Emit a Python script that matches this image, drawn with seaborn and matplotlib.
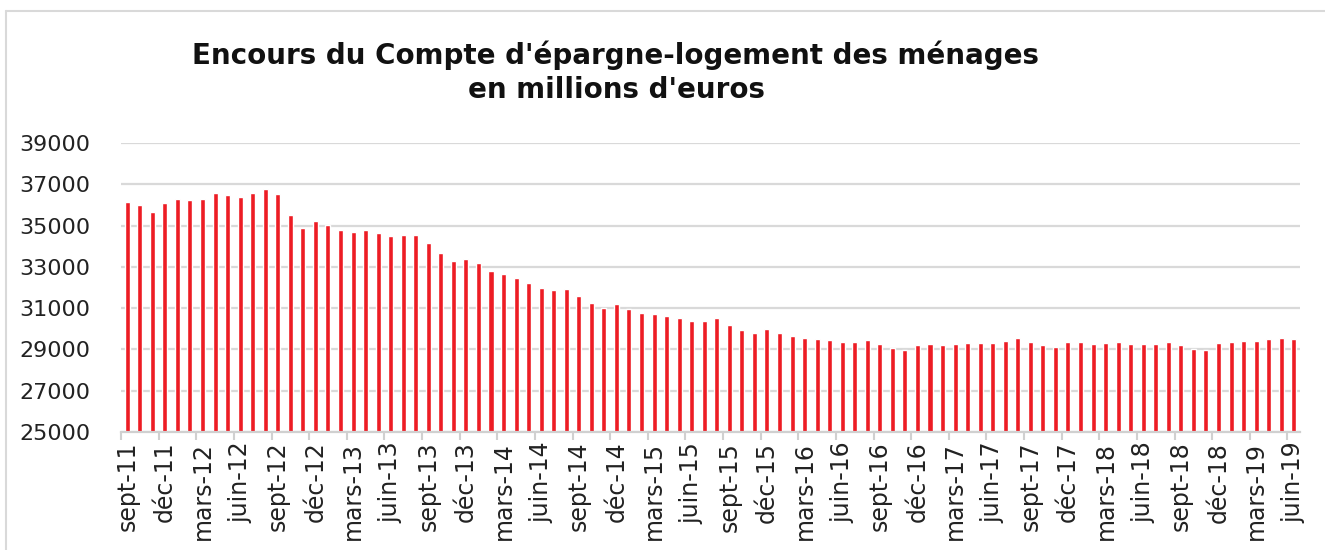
# Encours du Compte d'épargne-logement des ménages (bar chart)

import pandas as pd
import matplotlib.pyplot as plt
import seaborn as sns
from matplotlib.lines import Line2D

# monthly stock, millions of euros, sept-11 .. juin-19
encours = [
    36140, 35990, 35650, 36070, 36300, 36240, 36270, 36560, 36480, 36380,
    36580, 36770, 36530, 35520, 34900, 35210, 35020, 34770, 34680, 34770,
    34630, 34480, 34560, 34560, 34140, 33660, 33260, 33400, 33210, 32820,
    32630, 32450, 32210, 32000, 31870, 31935, 31610, 31240, 31000, 31190,
    30980, 30760, 30710, 30630, 30520, 30400, 30400, 30520, 30190, 29920,
    29780, 30000, 29790, 29630, 29550, 29500, 29435, 29355, 29340, 29435,
    29240, 29065, 28985, 29210, 29260, 29210, 29260, 29300, 29320, 29320,
    29390, 29530, 29370, 29225, 29130, 29355, 29355, 29275, 29305, 29340,
    29260, 29240, 29275, 29355, 29210, 29015, 28970, 29305, 29355, 29400,
    29420, 29500, 29530, 29485,
]

tick_labels = [
    "sept-11", "déc-11", "mars-12", "juin-12", "sept-12", "déc-12",
    "mars-13", "juin-13", "sept-13", "déc-13", "mars-14", "juin-14",
    "sept-14", "déc-14", "mars-15", "juin-15", "sept-15", "déc-15",
    "mars-16", "juin-16", "sept-16", "déc-16", "mars-17", "juin-17",
    "sept-17", "déc-17", "mars-18", "juin-18", "sept-18", "déc-18",
    "mars-19", "juin-19",
]

mois = pd.date_range("2011-09-01", periods=len(encours), freq="MS")
df = pd.DataFrame({"mois": mois.strftime("%Y-%m"), "encours": encours})

sns.set_theme(style="white")
plt.rcParams["font.family"] = ["DejaVu Sans"]

fig = plt.figure(figsize=(13.25, 5.5), dpi=100)
ax = fig.add_axes([121 / 1325, 1 - 432 / 550, (1300 - 121) / 1325, (432 - 143) / 550])

sns.barplot(data=df, x="mois", y="encours", color="#ED1C24", saturation=1,
            width=0.4, ax=ax)

ax.set_ylim(25000, 39000)
ax.set_xlim(-0.5, len(encours) - 0.5)
ax.set_yticks(range(25000, 39001, 2000))
ax.set_yticklabels([str(v) for v in range(25000, 39001, 2000)], fontsize=16,
                   color="#222222")
ax.yaxis.grid(True, color="#d9d9d9", linewidth=1.6)
ax.set_axisbelow(True)

# labels on every 3rd month, tick marks between categories
ax.set_xticks(range(0, len(encours), 3))
ax.set_xticklabels(tick_labels, rotation=90, fontsize=17, color="#222222")
ax.set_xticks([k - 0.5 for k in range(0, len(encours) + 1, 3)], minor=True)
ax.tick_params(axis="x", which="major", length=0, pad=7)
ax.tick_params(axis="x", which="minor", length=6, width=1.5, color="#d0d0d0",
               bottom=True)
ax.tick_params(axis="y", length=0, pad=22)

for side in ["top", "right", "left"]:
    ax.spines[side].set_visible(False)
ax.spines["bottom"].set_color("#d0d0d0")
ax.spines["bottom"].set_linewidth(1.6)
ax.set_xlabel(None)
ax.set_ylabel(None)

fig.text(616 / 1325, 1 - 72 / 550,
         "Encours du Compte d'épargne-logement des ménages\nen millions d'euros",
         ha="center", va="center", fontsize=20, fontweight="bold",
         linespacing=1.25, color="#111111")

# light chart frame like the spreadsheet export (only left and top show)
x0, y0 = 6 / 1325, 1 - 10.5 / 550
fig.lines.append(Line2D([x0, x0], [0, y0], transform=fig.transFigure,
                        color="#d9d9d9", linewidth=1.5))
fig.lines.append(Line2D([x0, 1], [y0, y0], transform=fig.transFigure,
                        color="#d9d9d9", linewidth=1.5))

fig.savefig("out.png", dpi=100)
